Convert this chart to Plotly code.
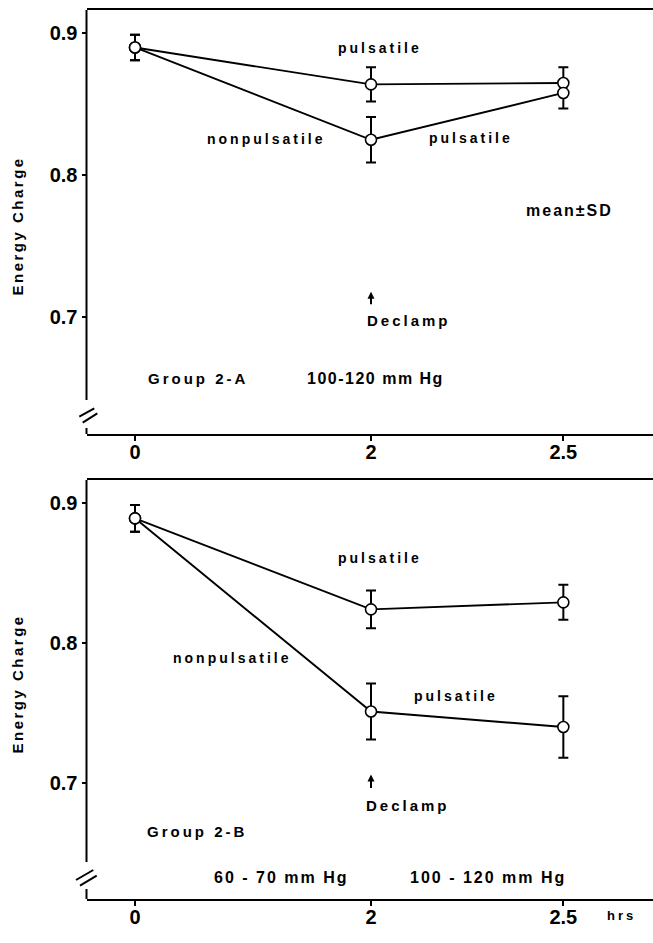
import plotly.graph_objects as go

W, H = 653, 943

# ---- data ----
hours = ["0", "2", "2.5"]
time_pos = [0, 1, 1.815]          # positions of the (non-linear) time ticks

# Group 2-A
a_puls = [0.890, 0.864, 0.865]
a_puls_plus = [0.009, 0.012, 0.011]
a_puls_minus = [0.009, 0.012, 0.0]
a_nonp = [0.890, 0.825, 0.858]
a_nonp_plus = [0.009, 0.016, 0.0]
a_nonp_minus = [0.009, 0.016, 0.011]

# Group 2-B
b_puls = [0.889, 0.824, 0.829]
b_puls_sd = [0.0095, 0.0135, 0.0125]
b_nonp = [0.889, 0.751, 0.740]
b_nonp_sd = [0.0095, 0.020, 0.022]

yticks = [0.7, 0.8, 0.9]
yticklabels = ["0.7", "0.8", "0.9"]

NUMFONT = "Liberation Sans Narrow, Liberation Sans, Arial"
TXTFONT = "Liberation Sans, Arial"


def px_x(x):
    return x / W


def px_y(y):
    return 1 - y / H


def series(x, y, plus, minus, xa, ya):
    return go.Scatter(
        x=x, y=y, mode="lines+markers", xaxis=xa, yaxis=ya,
        line=dict(color="black", width=1.9),
        marker=dict(symbol="circle", size=11, color="white",
                    line=dict(color="black", width=1.6)),
        error_y=dict(type="data", symmetric=False, array=plus, arrayminus=minus,
                     color="black", thickness=2, width=5),
        showlegend=False, cliponaxis=False,
    )


fig = go.Figure()
fig.add_trace(series(time_pos, a_puls, a_puls_plus, a_puls_minus, "x", "y"))
fig.add_trace(series(time_pos, a_nonp, a_nonp_plus, a_nonp_minus, "x", "y"))
fig.add_trace(series(time_pos, b_puls, b_puls_sd, b_puls_sd, "x2", "y2"))
fig.add_trace(series(time_pos, b_nonp, b_nonp_sd, b_nonp_sd, "x2", "y2"))

xr = [-0.2055, 2.1949]
xdom = [86.5 / W, 1.0]


def xaxis_cfg(anchor):
    return dict(domain=xdom, range=xr, anchor=anchor, showgrid=False, zeroline=False,
                showline=True, linecolor="black", linewidth=2, mirror=True,
                ticks="outside", ticklen=5, tickwidth=1.5, tickcolor="black",
                ticklabelstandoff=-6,
                tickvals=time_pos, ticktext=hours,
                tickfont=dict(family=NUMFONT, size=20, color="black", weight="bold"))


def yaxis_cfg(dom, rng, anchor):
    return dict(domain=dom, range=rng, anchor=anchor, showgrid=False, zeroline=False,
                showline=False, ticks="outside", ticklen=4, tickwidth=1.5,
                tickcolor="black", tickvals=yticks, ticktext=yticklabels,
                tickfont=dict(family=NUMFONT, size=20, color="black", weight="bold"))


yr1 = [0.6178, 0.9164]
yr2 = [0.6171, 0.9164]
fig.update_layout(
    width=W, height=H, margin=dict(l=0, r=0, t=0, b=0),
    paper_bgcolor="white", plot_bgcolor="white",
    xaxis=xaxis_cfg("y"),
    yaxis=yaxis_cfg([px_y(434), px_y(10)], yr1, "x"),
    xaxis2=xaxis_cfg("y2"),
    yaxis2=yaxis_cfg([px_y(899), px_y(480)], yr2, "x2"),
)

shapes = []
# broken y axes
for ya, top, brk, seg, bot in [("y", yr1[1], 0.6418, yr1[0] + 6 / 1420, yr1[0]),
                               ("y2", yr2[1], 0.6435, yr2[0] + 10 / 1400, yr2[0])]:
    xa = "x domain" if ya == "y" else "x2 domain"
    shapes.append(dict(type="line", xref=xa, yref=ya, x0=0, x1=0, y0=brk, y1=top,
                       line=dict(color="black", width=2)))
    shapes.append(dict(type="line", xref=xa, yref=ya, x0=0, x1=0, y0=bot, y1=seg,
                       line=dict(color="black", width=2)))
# break marks
for (x0, y0, x1, y1) in [(79.3, 416.7, 94.3, 408.3), (82.7, 422.7, 97.3, 413.3),
                         (76, 880, 93.3, 870), (80, 885.7, 96.7, 875.7)]:
    shapes.append(dict(type="line", xref="paper", yref="paper",
                       x0=px_x(x0), y0=px_y(y0), x1=px_x(x1), y1=px_y(y1),
                       line=dict(color="black", width=2)))
fig.update_layout(shapes=shapes)


def sp(t, ls=3):
    return f'<span style="letter-spacing:{ls}px">{t}</span>'


ann = []


def txt(t, x, y, xa, ya, size=14, xanchor="center", ls=3, family=TXTFONT):
    ann.append(dict(text=sp(t, ls), x=x, y=y, xref=xa, yref=ya, showarrow=False,
                    xanchor=xanchor, yanchor="middle",
                    font=dict(family=family, size=size, color="black", weight="bold")))


# top panel texts
txt("pulsatile", 1.04, 0.8897, "x", "y")
txt("nonpulsatile", 0.557, 0.8256, "x", "y")
txt("pulsatile", 1.424, 0.826, "x", "y")
txt("mean±SD", 1.843, 0.775, "x", "y", size=16, ls=2)
txt("Declamp", 0.975, 0.698, "x", "y", size=15, xanchor="left")
txt("Group 2-A", 0.047, 0.6566, "x", "y", size=15, xanchor="left")
txt("100-120 mm Hg", 1.02, 0.6566, "x", "y", size=16, ls=1.5)
# bottom panel texts
txt("pulsatile", 1.038, 0.861, "x2", "y2")
txt("nonpulsatile", 0.413, 0.789, "x2", "y2")
txt("pulsatile", 1.36, 0.762, "x2", "y2")
txt("Declamp", 0.97, 0.684, "x2", "y2", size=15, xanchor="left")
txt("Group 2-B", 0.042, 0.665, "x2", "y2", size=15, xanchor="left")
txt("60 - 70 mm Hg", 0.617, 0.6325, "x2", "y2", size=16, ls=2)
txt("100 - 120 mm Hg", 1.494, 0.6325, "x2", "y2", size=16, ls=2)
# units label next to last tick
ann.append(dict(text=sp("hrs", 3), x=px_x(621), y=px_y(915), xref="paper", yref="paper",
                showarrow=False, xanchor="center", yanchor="middle",
                font=dict(family=TXTFONT, size=13, color="black", weight="bold")))

# arrows at declamp
for xa, ya, tip, ay in [("x", "y", 0.718, 14), ("x2", "y2", 0.706, 15)]:
    ann.append(dict(text="", x=1, y=tip, xref=xa, yref=ya, ax=0, ay=ay,
                    showarrow=True, arrowhead=2, arrowsize=0.7, arrowwidth=2,
                    arrowcolor="black"))

# y axis titles
for yc in [226.5, 684.5]:
    ann.append(dict(text=sp("Energy Charge", 2.5), x=px_x(17), y=px_y(yc), xref="paper",
                    yref="paper", showarrow=False, textangle=-90,
                    xanchor="center", yanchor="middle",
                    font=dict(family=TXTFONT, size=15, color="black", weight="bold")))

fig.update_layout(annotations=ann)
fig.write_html("out.html")
